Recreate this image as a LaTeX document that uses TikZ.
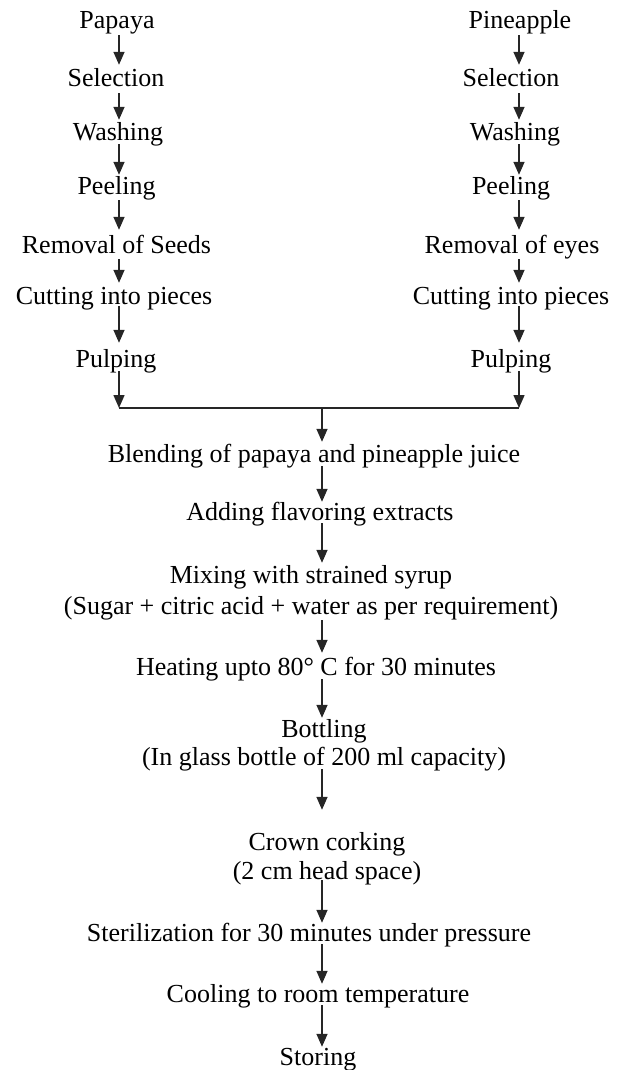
\documentclass[tikz,border=0pt]{standalone}
\usepackage{fontspec}
\setmainfont{Liberation Serif}
\usetikzlibrary{arrows.meta}
\begin{document}
\begin{tikzpicture}[x=1pt,y=-1pt,
  lbl/.style={inner sep=0pt, anchor=base, text height=17pt, text depth=6pt,
    font=\fontsize{26}{28}\selectfont, text=black},
  arr/.style={draw=black!85, line width=1.5pt, -{Triangle[width=11pt,length=13pt]},
    shorten >=#1},
  arr/.default=2pt,
  ln/.style={draw=black!85, line width=1.5pt}]
\useasboundingbox (0,0) rectangle (617,1070);
\coordinate (xl) at (119,0);
\coordinate (xr) at (519,0);
\coordinate (xc) at (322,0);
% left column
\node[lbl] (L1) at (117,29) {Papaya};
\node[lbl] (L2) at (116,87) {Selection};
\node[lbl] (L3) at (118,140) {Washing};
\node[lbl] (L4) at (116.5,194) {Peeling};
\node[lbl] (L5) at (116.5,253) {Removal of Seeds};
\node[lbl] (L6) at (114,304) {Cutting into pieces};
\node[lbl] (L7) at (116,367) {Pulping};
% right column
\node[lbl] (R1) at (520,29) {Pineapple};
\node[lbl] (R2) at (511,87) {Selection};
\node[lbl] (R3) at (515,140) {Washing};
\node[lbl] (R4) at (511,194) {Peeling};
\node[lbl] (R5) at (512,253) {Removal of eyes};
\node[lbl] (R6) at (511,304) {Cutting into pieces};
\node[lbl] (R7) at (511,367) {Pulping};
% merge
\coordinate (ml) at (119,408);
\coordinate (mr) at (519,408);
\coordinate (mc) at (322,408);
% centre column
\node[lbl] (C1) at (314,462) {Blending of papaya and pineapple juice};
\node[lbl] (C2) at (320,520) {Adding flavoring extracts};
\node[lbl, text depth=37pt] (C3) at (311,583)
  {\begin{tabular}[t]{@{}c@{}}Mixing with strained syrup\\[3pt](Sugar + citric acid + water as per requirement)\end{tabular}};
\node[lbl] (C4) at (316,675) {Heating upto 80° C for 30 minutes};
\node[lbl, text depth=34pt] (C5) at (324,737)
  {\begin{tabular}[t]{@{}c@{}}Bottling\\(In glass bottle of 200 ml capacity)\end{tabular}};
\node[lbl, text depth=35pt] (C6) at (327,850)
  {\begin{tabular}[t]{@{}c@{}}Crown corking\\[1pt](2 cm head space)\end{tabular}};
\node[lbl] (C7) at (309,941) {Sterilization for 30 minutes under pressure};
\node[lbl] (C8) at (318,1002) {Cooling to room temperature};
\node[lbl] (C9) at (318,1065) {Storing};
% left arrows
\draw[arr=5pt] (L1.south -| xl) -- (L2.north -| xl);
\draw[arr=3pt] (L2.south -| xl) -- (L3.north -| xl);
\draw[arr=2pt] ([yshift=2pt]L3.south -| xl) -- (L4.north -| xl);
\draw[arr=6pt] (L4.south -| xl) -- (L5.north -| xl);
\draw[arr=4pt] (L5.south -| xl) -- (L6.north -| xl);
\draw[arr=7pt] ([yshift=4pt]L6.south -| xl) -- (L7.north -| xl);
\draw[arr=0pt] ([yshift=2pt]L7.south -| xl) -- (ml);
% right arrows
\draw[arr=5pt] (R1.south -| xr) -- (R2.north -| xr);
\draw[arr=3pt] (R2.south -| xr) -- (R3.north -| xr);
\draw[arr=2pt] ([yshift=2pt]R3.south -| xr) -- (R4.north -| xr);
\draw[arr=6pt] (R4.south -| xr) -- (R5.north -| xr);
\draw[arr=4pt] (R5.south -| xr) -- (R6.north -| xr);
\draw[arr=7pt] ([yshift=4pt]R6.south -| xr) -- (R7.north -| xr);
\draw[arr=0pt] ([yshift=2pt]R7.south -| xr) -- (mr);
\draw[ln] (ml) -- (mr);
% centre arrows
\draw[arr=3pt] (mc) -- (C1.north -| xc);
\draw[arr=1pt] ([yshift=2pt]C1.south -| xc) -- (C2.north -| xc);
\draw[arr=3pt] ([yshift=3pt]C2.south -| xc) -- (C3.north -| xc);
\draw[arr=5pt] (C3.south -| xc) -- (C4.north -| xc);
\draw[arr=2pt] ([yshift=2pt]C4.south -| xc) -- (C5.north -| xc);
\draw[arr=23pt] ([yshift=2pt]C5.south -| xc) -- (C6.north -| xc);
\draw[arr=1pt] ([yshift=5pt]C6.south -| xc) -- (C7.north -| xc);
\draw[arr=1pt] ([yshift=3pt]C7.south -| xc) -- (C8.north -| xc);
\draw[arr=1pt] ([yshift=3pt]C8.south -| xc) -- (C9.north -| xc);
\end{tikzpicture}
\end{document}
